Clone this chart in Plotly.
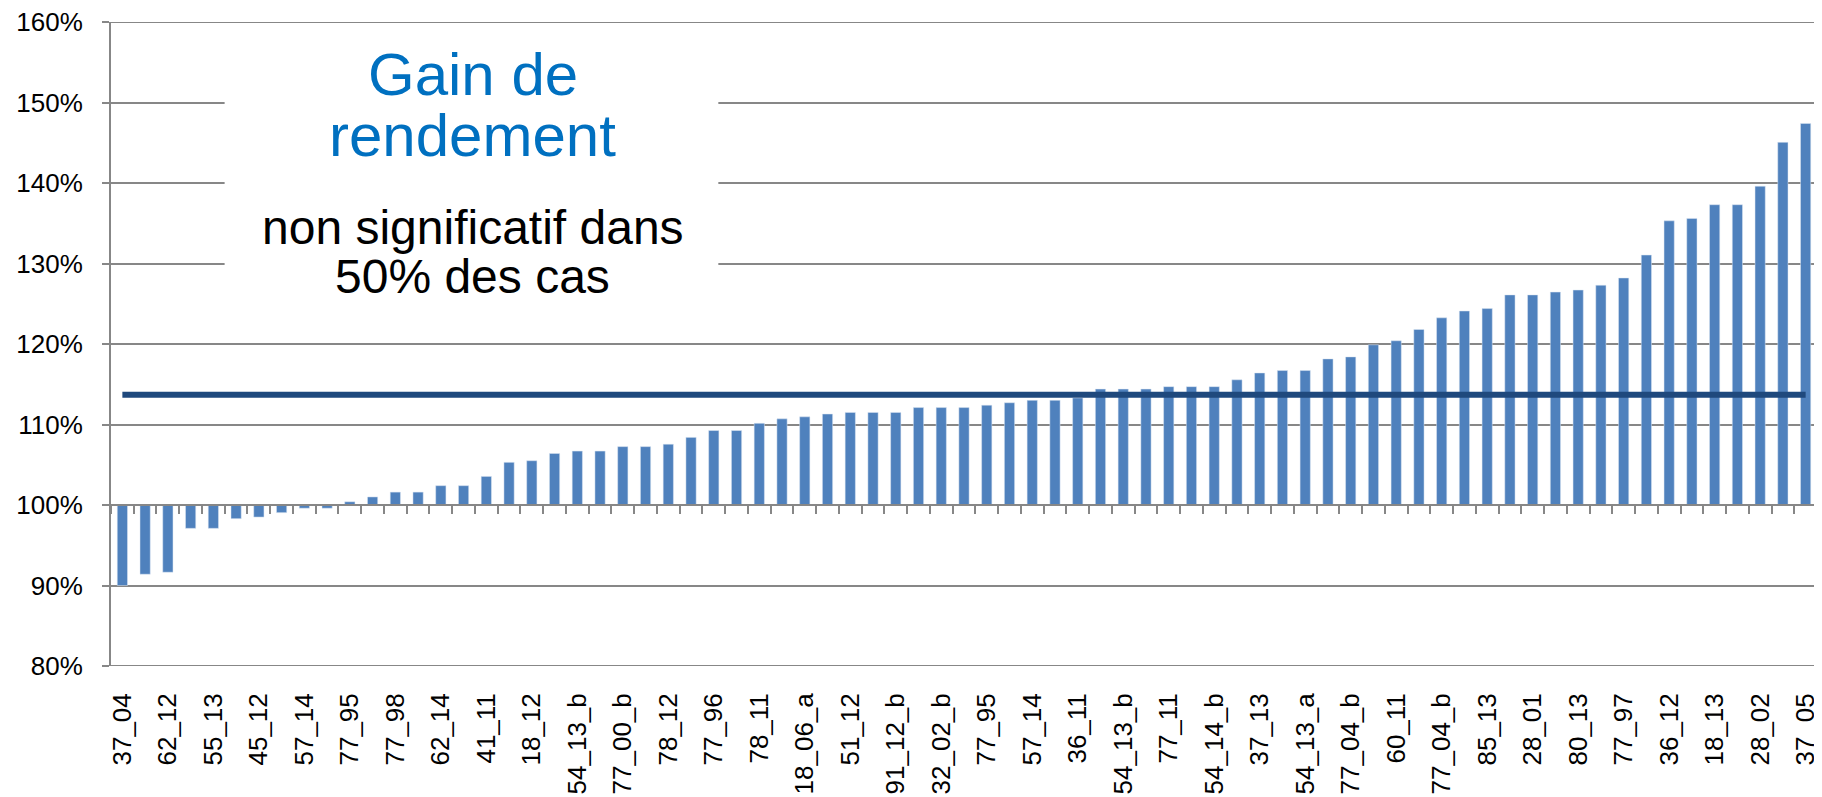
import plotly.graph_objects as go

# Rendement relatif par essai (%), trié par ordre croissant
VALUES = [
    90.0, 91.4, 91.65, 97.1, 97.1, 98.3, 98.5, 99.05, 99.6, 99.6,
    100.4, 101.0, 101.6, 101.6, 102.4, 102.4, 103.55, 105.3, 105.5, 106.4,
    106.7, 106.7, 107.25, 107.25, 107.55, 108.4, 109.25, 109.25, 110.15, 110.7,
    110.95, 111.3, 111.5, 111.5, 111.5, 112.1, 112.1, 112.1, 112.4, 112.7,
    113.0, 113.0, 113.3, 114.4, 114.4, 114.4, 114.7, 114.7, 114.7, 115.55,
    116.4, 116.7, 116.7, 118.15, 118.4, 119.9, 120.4, 121.8, 123.25, 124.1,
    124.4, 126.1, 126.1, 126.45, 126.7, 127.3, 128.2, 131.05, 135.3, 135.6,
    137.3, 137.3, 139.6, 145.05, 147.4,
]

# une étiquette sur deux est affichée sur l'axe
TICK_LABELS = [
    "37_04", "62_12", "55_13", "45_12", "57_14", "77_95", "77_98", "62_14",
    "41_11", "18_12", "54_13_b", "77_00_b", "78_12", "77_96", "78_11",
    "18_06_a", "51_12", "91_12_b", "32_02_b", "77_95", "57_14", "36_11",
    "54_13_b", "77_11", "54_14_b", "37_13", "54_13_a", "77_04_b", "60_11",
    "77_04_b", "85_13", "28_01", "80_13", "77_97", "36_12", "18_13", "28_02",
    "37_05",
]

MEAN = 113.7
Y_TICKS = [80, 90, 100, 110, 120, 130, 140, 150, 160]

BAR_COLOR = "#4F81BD"
LINE_COLOR = "#1F497D"
GRID_COLOR = "#878787"
FONT = "Liberation Sans"

positions = list(range(len(VALUES)))
n = len(VALUES)

fig = go.Figure()

fig.add_trace(go.Bar(
    x=positions, y=[v - 100 for v in VALUES], base=100,
    marker=dict(color=BAR_COLOR, line=dict(color="#DCE6F2", width=0.5)),
    showlegend=False,
))

# moyenne
fig.add_trace(go.Scatter(
    x=[positions[0], positions[-1]], y=[MEAN, MEAN],
    mode="lines", xaxis="x2",
    line=dict(color=LINE_COLOR, width=6),
    showlegend=False,
))

fig.update_layout(
    width=1822, height=797,
    margin=dict(l=103, r=13, t=14, b=139),
    paper_bgcolor="white", plot_bgcolor="white",
    bargap=0.55,
    font=dict(family=FONT, size=26, color="black"),
    xaxis=dict(
        range=[-0.5, n - 0.5],
        tickmode="array",
        tickvals=positions[::2],
        ticktext=TICK_LABELS,
        tickangle=-90,
        ticks="",
        ticklabelstandoff=21,
        ticklabeloverflow="allow",
        automargin=False,
        showgrid=False, showline=False, zeroline=False,
        tickfont=dict(family=FONT, size=26, color="black"),
    ),
    # axe des catégories croisant à 100 %
    xaxis2=dict(
        overlaying="x", anchor="free", position=0.25,
        range=[-0.5, n - 0.5],
        tickmode="array",
        tickvals=[p - 0.5 for p in positions] + [n - 0.5],
        showticklabels=False,
        ticks="outside", ticklen=8, tickwidth=2, tickcolor=GRID_COLOR,
        showline=True, linecolor=GRID_COLOR, linewidth=2,
        showgrid=False, zeroline=False, automargin=False,
    ),
    yaxis=dict(
        range=[80, 160],
        tickmode="array",
        tickvals=Y_TICKS,
        ticktext=[f"{t}%" for t in Y_TICKS],
        ticks="outside", ticklen=7, tickwidth=2, tickcolor=GRID_COLOR,
        showline=True, linecolor=GRID_COLOR, linewidth=2,
        showgrid=True, gridcolor=GRID_COLOR, gridwidth=2,
        zeroline=False,
        ticklabelstandoff=14,
        ticklabeloverflow="allow",
        automargin=False,
        tickfont=dict(family=FONT, size=26, color="black"),
    ),
)

# bordures haute et basse (quadrillage aux extrémités)
for yv in (Y_TICKS[0], Y_TICKS[-1]):
    fig.add_shape(
        type="line", xref="paper", yref="y", x0=0, x1=1, y0=yv, y1=yv,
        line=dict(color=GRID_COLOR, width=2), layer="below",
    )

# cadre blanc du commentaire
fig.add_shape(
    type="rect", xref="paper", yref="paper",
    x0=0.0666, x1=0.356, y0=0.55, y1=0.96,
    fillcolor="white", line=dict(width=0), layer="above",
)

for txt, y, size, color in [
    ("Gain de", 0.918, 60, "#0070C0"),
    ("rendement", 0.823, 60, "#0070C0"),
    ("non significatif dans", 0.681, 48, "black"),
    ("50% des cas", 0.605, 48, "black"),
]:
    fig.add_annotation(
        text=txt, xref="paper", yref="paper", x=0.212, y=y,
        xanchor="center", yanchor="middle", showarrow=False,
        font=dict(family=FONT, size=size, color=color),
    )

fig.write_html("out.html")
